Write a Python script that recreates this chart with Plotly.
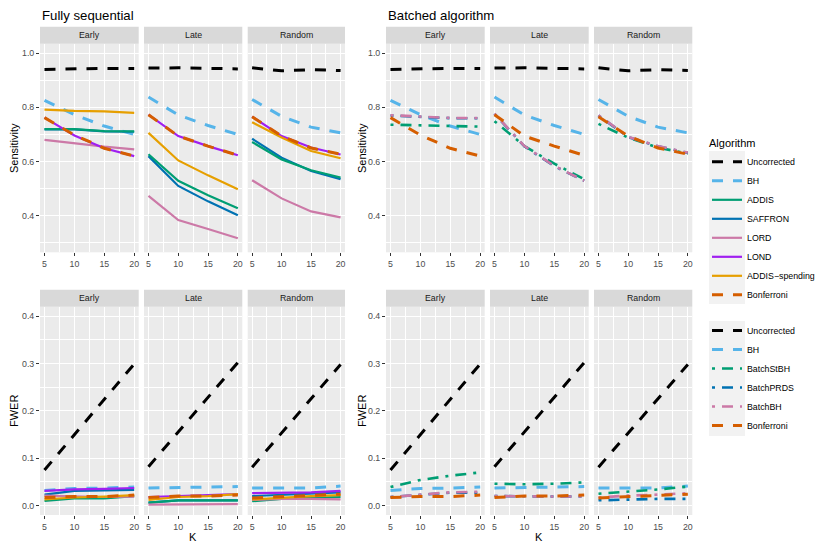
import plotly.graph_objects as go

# ---------------- data ----------------
K = [5, 10, 15, 20]
FACETS = ["Early", "Late", "Random"]

SEQ_ALGOS = ["Uncorrected", "BH", "ADDIS", "SAFFRON", "LORD", "LOND", "ADDIS\u2212spending", "Bonferroni"]
BATCH_ALGOS = ["Uncorrected", "BH", "BatchStBH", "BatchPRDS", "BatchBH", "Bonferroni"]

# Sensitivity: values for Early (4), Late (4), Random (4)
sens_uncorrected = [0.940, 0.942, 0.944, 0.943, 0.945, 0.946, 0.944, 0.942, 0.946, 0.935, 0.939, 0.936]
sens_bh = [0.826, 0.773, 0.731, 0.700, 0.838, 0.772, 0.733, 0.700, 0.829, 0.767, 0.727, 0.706]
sens_addis = [0.720, 0.720, 0.712, 0.711, 0.627, 0.529, 0.476, 0.428, 0.672, 0.608, 0.568, 0.541]
sens_saffron = [0.719, 0.719, 0.711, 0.710, 0.620, 0.510, 0.453, 0.402, 0.684, 0.614, 0.565, 0.535]
sens_lord = [0.680, 0.667, 0.655, 0.645, 0.473, 0.384, 0.351, 0.317, 0.531, 0.464, 0.416, 0.394]
sens_lond = [0.762, 0.696, 0.649, 0.620, 0.773, 0.694, 0.657, 0.623, 0.766, 0.694, 0.652, 0.626]
sens_addis_spending = [0.792, 0.787, 0.785, 0.780, 0.706, 0.604, 0.549, 0.498, 0.745, 0.689, 0.639, 0.612]
sens_bonferroni = [0.762, 0.698, 0.649, 0.620, 0.773, 0.694, 0.657, 0.623, 0.765, 0.694, 0.650, 0.627]
sens_batchstbh = [0.736, 0.733, 0.731, 0.729, 0.749, 0.657, 0.592, 0.535, 0.739, 0.688, 0.651, 0.630]
sens_batchprds = [0.770, 0.764, 0.760, 0.760, 0.776, 0.656, 0.583, 0.529, 0.770, 0.690, 0.656, 0.632]
sens_batchbh = [0.771, 0.765, 0.761, 0.761, 0.777, 0.657, 0.584, 0.529, 0.771, 0.691, 0.657, 0.633]

# FWER: values for Early (4), Late (4), Random (4)
fwer_uncorrected = [0.075, 0.150, 0.225, 0.299, 0.082, 0.156, 0.229, 0.302, 0.081, 0.154, 0.226, 0.298]
fwer_bh = [0.032, 0.036, 0.037, 0.039, 0.037, 0.038, 0.038, 0.040, 0.037, 0.037, 0.037, 0.041]
fwer_addis = [0.010, 0.015, 0.015, 0.020, 0.006, 0.011, 0.011, 0.011, 0.009, 0.014, 0.016, 0.018]
fwer_saffron = [0.023, 0.031, 0.032, 0.033, 0.006, 0.011, 0.011, 0.011, 0.020, 0.023, 0.025, 0.028]
fwer_lord = [0.021, 0.019, 0.018, 0.019, 0.002, 0.002, 0.002, 0.003, 0.012, 0.014, 0.014, 0.013]
fwer_lond = [0.031, 0.034, 0.035, 0.037, 0.018, 0.020, 0.021, 0.024, 0.026, 0.027, 0.028, 0.031]
fwer_addis_spending = [0.013, 0.017, 0.019, 0.022, 0.012, 0.018, 0.020, 0.024, 0.013, 0.017, 0.020, 0.022]
fwer_bonferroni = [0.017, 0.019, 0.019, 0.022, 0.017, 0.020, 0.020, 0.022, 0.016, 0.019, 0.021, 0.024]
fwer_batchstbh = [0.039, 0.054, 0.063, 0.070, 0.046, 0.045, 0.046, 0.049, 0.025, 0.029, 0.034, 0.040]
fwer_batchprds = [0.018, 0.022, 0.027, 0.027, 0.020, 0.019, 0.019, 0.019, 0.011, 0.013, 0.014, 0.014]
fwer_batchbh = [0.018, 0.023, 0.028, 0.029, 0.020, 0.019, 0.019, 0.019, 0.017, 0.021, 0.023, 0.026]

SENS = {
    "Uncorrected": sens_uncorrected, "BH": sens_bh, "ADDIS": sens_addis, "SAFFRON": sens_saffron,
    "LORD": sens_lord, "LOND": sens_lond, "ADDIS\u2212spending": sens_addis_spending,
    "Bonferroni": sens_bonferroni, "BatchStBH": sens_batchstbh, "BatchPRDS": sens_batchprds,
    "BatchBH": sens_batchbh,
}
FWER = {
    "Uncorrected": fwer_uncorrected, "BH": fwer_bh, "ADDIS": fwer_addis, "SAFFRON": fwer_saffron,
    "LORD": fwer_lord, "LOND": fwer_lond, "ADDIS\u2212spending": fwer_addis_spending,
    "Bonferroni": fwer_bonferroni, "BatchStBH": fwer_batchstbh, "BatchPRDS": fwer_batchprds,
    "BatchBH": fwer_batchbh,
}

# ---------------- styles ----------------
DASH = "11px,10px"
DOTDASH = "3px,7px,11px,7px"
STYLE = {
    "Uncorrected": ("#000000", 3.0, DASH),
    "BH": ("#56B4E9", 3.0, DASH),
    "ADDIS": ("#009E73", 2.2, "solid"),
    "SAFFRON": ("#0072B2", 2.2, "solid"),
    "LORD": ("#CC79A7", 2.2, "solid"),
    "LOND": ("#A020F0", 2.2, "solid"),
    "ADDIS\u2212spending": ("#E69F00", 2.2, "solid"),
    "Bonferroni": ("#D55E00", 3.0, DASH),
    "BatchStBH": ("#009E73", 2.6, DOTDASH),
    "BatchPRDS": ("#0072B2", 2.6, DOTDASH),
    "BatchBH": ("#CC79A7", 2.6, DOTDASH),
}
# drawing order (legend order kept via legendrank)
SEQ_DRAW = ["Uncorrected", "BH", "SAFFRON", "ADDIS", "LORD", "LOND", "ADDIS\u2212spending", "Bonferroni"]
BATCH_DRAW = ["Uncorrected", "BH", "BatchStBH", "BatchPRDS", "BatchBH", "Bonferroni"]

W, H = 830, 553
FONT = "Liberation Sans, Arial, Helvetica, sans-serif"


def fx(p):
    return p / W


def fy(p):
    return 1 - p / H


LEFT_X = [(40, 138.7), (144, 242.3), (247.7, 345)]
RIGHT_X = [(386, 484.7), (490, 588.7), (594, 692.3)]
TOP_Y = (43.7, 252.3)
BOT_Y = (306.7, 515)
STRIP = 17

groups = [
    (SENS, SEQ_DRAW, SEQ_ALGOS, LEFT_X, TOP_Y, [0.265, 1.035], [0.4, 0.6, 0.8, 1.0], [0.3, 0.5, 0.7, 0.9], "legend"),
    (SENS, BATCH_DRAW, BATCH_ALGOS, RIGHT_X, TOP_Y, [0.265, 1.035], [0.4, 0.6, 0.8, 1.0], [0.3, 0.5, 0.7, 0.9], "legend2"),
    (FWER, SEQ_DRAW, SEQ_ALGOS, LEFT_X, BOT_Y, [-0.02, 0.42], [0.0, 0.1, 0.2, 0.3, 0.4], [0.05, 0.15, 0.25, 0.35], None),
    (FWER, BATCH_DRAW, BATCH_ALGOS, RIGHT_X, BOT_Y, [-0.02, 0.42], [0.0, 0.1, 0.2, 0.3, 0.4], [0.05, 0.15, 0.25, 0.35], None),
]

fig = go.Figure()
layout = {}
shapes = []
annotations = []

for g, (data, draw, order, xdoms, ypx, yrange, major, minor, legname) in enumerate(groups):
    for f, facet in enumerate(FACETS):
        i = g * 3 + f + 1
        xname = "x" if i == 1 else f"x{i}"
        yname = "y" if i == 1 else f"y{i}"
        for algo in draw:
            color, width, dash = STYLE[algo]
            vals = data[algo][f * 4:(f + 1) * 4]
            fig.add_trace(go.Scatter(
                x=K, y=vals, mode="lines", name=algo,
                line=dict(color=color, width=width, dash=dash),
                xaxis=xname, yaxis=yname,
                showlegend=(legname is not None and f == 0),
                legend=legname if legname else "legend",
                legendrank=order.index(algo) + 1,
                hoverinfo="skip",
            ))
        x0, x1 = xdoms[f]
        layout[f"xaxis{i}"] = dict(
            domain=[fx(x0), fx(x1)], range=[4.25, 20.75], anchor=yname,
            tickmode="array", tickvals=K, ticktext=[str(k) for k in K],
            showgrid=True, gridcolor="white", gridwidth=1.1,
            minor=dict(tickmode="array", tickvals=[7.5, 12.5, 17.5], showgrid=True,
                       gridcolor="white", gridwidth=0.55, ticks=""),
            ticks="outside", ticklen=3, tickwidth=1, tickcolor="#333333",
            tickfont=dict(size=8.8, color="#4D4D4D", family=FONT),
            zeroline=False, showline=False, fixedrange=True,
        )
        layout[f"yaxis{i}"] = dict(
            domain=[fy(ypx[1]), fy(ypx[0])], range=yrange, anchor=xname,
            tickmode="array", tickvals=major, ticktext=[f"{v:.1f}" for v in major],
            showticklabels=(f == 0), ticks="outside" if f == 0 else "",
            ticklen=3, tickwidth=1, tickcolor="#333333",
            tickfont=dict(size=8.8, color="#4D4D4D", family=FONT),
            showgrid=True, gridcolor="white", gridwidth=1.1,
            minor=dict(tickmode="array", tickvals=minor, showgrid=True,
                       gridcolor="white", gridwidth=0.55, ticks=""),
            zeroline=False, showline=False, fixedrange=True,
        )
        # strip
        shapes.append(dict(type="rect", xref="paper", yref="paper",
                           x0=fx(x0), x1=fx(x1), y0=fy(ypx[0]), y1=fy(ypx[0] - STRIP),
                           fillcolor="#D9D9D9", line=dict(width=0), layer="below"))
        annotations.append(dict(text=facet, xref="paper", yref="paper",
                                x=fx((x0 + x1) / 2), y=fy(ypx[0] - STRIP / 2),
                                xanchor="center", yanchor="middle", showarrow=False,
                                font=dict(size=8.8, color="#1A1A1A", family=FONT)))

# titles
annotations.append(dict(text="Fully sequential", xref="paper", yref="paper", x=fx(40), y=fy(15.5),
                        xanchor="left", yanchor="middle", showarrow=False,
                        font=dict(size=13.2, color="black", family=FONT)))
annotations.append(dict(text="Batched algorithm", xref="paper", yref="paper", x=fx(386), y=fy(15.5),
                        xanchor="left", yanchor="middle", showarrow=False,
                        font=dict(size=13.2, color="black", family=FONT)))
# axis titles
for xc in (14, 362):
    annotations.append(dict(text="Sensitivity", xref="paper", yref="paper", x=fx(xc), y=fy(148),
                            xanchor="center", yanchor="middle", textangle=-90, showarrow=False,
                            font=dict(size=11, color="black", family=FONT)))
    annotations.append(dict(text="FWER", xref="paper", yref="paper", x=fx(xc), y=fy(411),
                            xanchor="center", yanchor="middle", textangle=-90, showarrow=False,
                            font=dict(size=11, color="black", family=FONT)))
for xc in (192.5, 539):
    annotations.append(dict(text="K", xref="paper", yref="paper", x=fx(xc), y=fy(536.5),
                            xanchor="center", yanchor="middle", showarrow=False,
                            font=dict(size=11, color="black", family=FONT)))

# legend key backgrounds
shapes.append(dict(type="rect", xref="paper", yref="paper", x0=fx(709), x1=fx(745),
                   y0=fy(304), y1=fy(151), fillcolor="#F2F2F2", line=dict(width=0), layer="below"))
shapes.append(dict(type="rect", xref="paper", yref="paper", x0=fx(709), x1=fx(745),
                   y0=fy(436), y1=fy(321), fillcolor="#F2F2F2", line=dict(width=0), layer="below"))

layout.update(
    width=W, height=H, margin=dict(l=0, r=0, t=0, b=0),
    paper_bgcolor="white", plot_bgcolor="#EBEBEB",
    font=dict(family=FONT, size=8.8, color="black"),
    shapes=shapes, annotations=annotations,
    legend=dict(x=fx(707), y=fy(133), xanchor="left", yanchor="top",
                bgcolor="rgba(0,0,0,0)", borderwidth=0,
                title=dict(text="Algorithm", font=dict(size=11, family=FONT)),
                font=dict(size=8.8, family=FONT), itemwidth=30, tracegroupgap=0),
    legend2=dict(x=fx(707), y=fy(316), xanchor="left", yanchor="top",
                 bgcolor="rgba(0,0,0,0)", borderwidth=0,
                 font=dict(size=8.8, family=FONT), itemwidth=30, tracegroupgap=0),
    hovermode=False,
)
fig.update_layout(**layout)
fig.write_html("out.html", config={"displayModeBar": False, "staticPlot": False},
               post_script="document.body.style.margin='0';document.body.style.padding='0';")
